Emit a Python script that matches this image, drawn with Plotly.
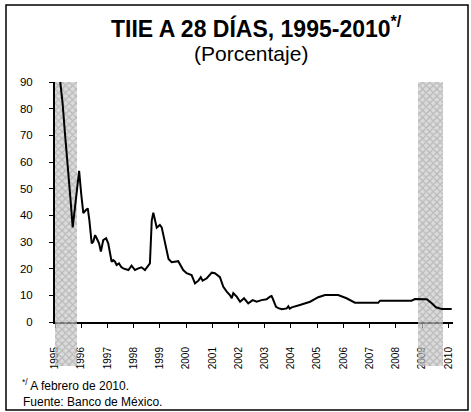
import plotly.graph_objects as go

# ---- data ----
years = [1995.19, 1995.29, 1995.39, 1995.51, 1995.60, 1995.675, 1995.75, 1995.84, 1995.92,
         1996.00, 1996.08, 1996.18, 1996.25, 1996.31, 1996.40, 1996.46, 1996.53, 1996.59,
         1996.68, 1996.75, 1996.84, 1996.95, 1997.03, 1997.16, 1997.22, 1997.29, 1997.35,
         1997.44, 1997.52, 1997.60, 1997.71, 1997.80, 1997.92, 1998.05, 1998.18, 1998.30,
         1998.43, 1998.56, 1998.62, 1998.69, 1998.75, 1998.88, 1999.00, 1999.07, 1999.20,
         1999.33, 1999.45, 1999.58, 1999.70, 1999.89, 2000.02, 2000.21, 2000.34, 2000.47,
         2000.56, 2000.63, 2000.79, 2000.98, 2001.10, 2001.29, 2001.42, 2001.55, 2001.67,
         2001.74, 2001.80, 2001.93, 2002.06, 2002.21, 2002.37, 2002.54, 2002.69, 2002.88,
         2003.07, 2003.20, 2003.26, 2003.30, 2003.43, 2003.52, 2003.65, 2003.84, 2003.90,
         2003.95, 2004.03, 2004.34, 2004.73, 2005.04, 2005.30, 2005.80, 2006.12, 2006.44,
         2007.33, 2007.40, 2008.60, 2008.73, 2009.18, 2009.37, 2009.53, 2009.75, 2010.13]
tiie = [91.0, 82.0, 69.5, 57.0, 45.0, 35.5, 42.0, 52.0, 56.7,
        48.0, 40.8, 42.0, 42.6, 38.2, 29.5, 30.1, 32.6, 31.4,
        29.5, 26.4, 30.7, 31.4, 29.5, 22.6, 23.2, 22.6, 21.4,
        22.0, 20.7, 20.1, 19.8, 19.5, 21.1, 19.5, 20.1, 20.5,
        19.5, 21.4, 22.0, 38.0, 41.0, 35.4, 36.4, 35.5, 29.5,
        23.6, 22.4, 22.6, 22.8, 19.5, 18.3, 17.6, 14.5, 15.5,
        16.8, 15.5, 16.4, 18.5, 18.3, 16.8, 13.2, 11.4, 10.1,
        8.9, 10.8, 9.5, 7.6, 8.9, 7.0, 8.2, 7.6, 8.2,
        8.5, 9.5, 9.75, 8.9, 5.7, 5.2, 4.8, 5.1, 5.9,
        5.0, 5.5, 6.4, 7.6, 9.3, 10.1, 10.1, 8.9, 7.25,
        7.25, 8.0, 8.0, 8.6, 8.5, 7.0, 5.5, 4.9, 4.9]

band_start = [1994.92, 2008.86]
band_end = [1995.82, 2009.81]

tick_years = list(range(1995, 2011))
tick_labels = [str(y) for y in tick_years]
y_ticks = list(range(0, 100, 10))

# ---- layout geometry (pixels) ----
W, H = 471, 412
L, R, T, B = 55, 18, 82, 46
plot_w = W - L - R
plot_h = H - T - B
zero_px = 322
d = (H - B - zero_px) / plot_h          # main y-domain bottom
ymax = 90
lo = -d * ymax / (1 - d)               # y2 bottom value aligned with main axes


def px2x(px):
    return (px - L) / plot_w


def py2y(py):
    return (H - B - py) / plot_h


fig = go.Figure()

# placeholder so the main x/y subplot (axes, ticks) exists
fig.add_trace(go.Scatter(x=[None], y=[None], xaxis="x", yaxis="y",
                         mode="lines", showlegend=False, hoverinfo="skip"))

centers = [(a + b) / 2 for a, b in zip(band_start, band_end)]
widths = [b - a for a, b in zip(band_start, band_end)]
fig.add_trace(go.Bar(
    x=centers, y=[ymax - lo] * len(centers), base=[lo] * len(centers), width=widths,
    xaxis="x", yaxis="y2", opacity=0.7,
    marker=dict(color="#cccccc", line=dict(width=0),
                pattern=dict(shape="x", fgcolor="#666666", size=5, solidity=0.4)),
    hoverinfo="skip", showlegend=False,
))

fig.add_trace(go.Scatter(
    x=years, y=tiie, mode="lines", xaxis="x", yaxis="y2",
    line=dict(color="black", width=2), showlegend=False,
))

fig.update_layout(
    width=W, height=H,
    margin=dict(l=L, r=R, t=T, b=B, pad=0, autoexpand=False),
    paper_bgcolor="white", plot_bgcolor="rgba(0,0,0,0)",
    font=dict(family="Liberation Sans, Arial, sans-serif", color="black"),
    bargap=0,
    xaxis=dict(domain=[0, 1], range=[1995, 2010.18], anchor="y", automargin=False,
               tickmode="array", tickvals=tick_years, ticktext=tick_labels,
               tickangle=-90, ticks="outside", ticklen=4, tickwidth=1, tickcolor="black",
               showline=True, linewidth=2, linecolor="black",
               showgrid=False, zeroline=False, tickfont=dict(size=10),
               ticklabelstandoff=15),
    yaxis=dict(domain=[d, 1], range=[0, ymax], anchor="x", automargin=False,
               tickmode="array", tickvals=y_ticks,
               ticks="outside", ticklen=4, tickwidth=1, tickcolor="black",
               showline=True, linewidth=2, linecolor="black",
               showgrid=False, zeroline=False, tickfont=dict(size=11.5),
               ticklabelstandoff=14),
    yaxis2=dict(domain=[0, 1], range=[lo, ymax], anchor="x", visible=False,
                automargin=False),
)

fig.add_shape(type="rect", xref="paper", yref="paper",
              x0=px2x(6), x1=px2x(468), y0=py2y(410), y1=py2y(5),
              line=dict(color="black", width=1.5), fillcolor="rgba(0,0,0,0)")

fig.add_annotation(xref="paper", yref="paper", x=px2x(256), y=py2y(27),
                   xanchor="center", yanchor="middle", showarrow=False,
                   text="<b>TIIE A 28 DÍAS, 1995-2010<sup>*/</sup></b>",
                   font=dict(size=23))
fig.add_annotation(xref="paper", yref="paper", x=px2x(251), y=py2y(53),
                   xanchor="center", yanchor="middle", showarrow=False,
                   text="(Porcentaje)", font=dict(size=21))
fig.add_annotation(xref="paper", yref="paper", x=px2x(20), y=py2y(385),
                   xanchor="left", yanchor="middle", showarrow=False,
                   text="<sup>*/</sup> A febrero de 2010.", font=dict(size=12))
fig.add_annotation(xref="paper", yref="paper", x=px2x(21), y=py2y(402),
                   xanchor="left", yanchor="middle", showarrow=False,
                   text="Fuente: Banco de México.", font=dict(size=12))

fig.write_html("out.html",
               config={"displayModeBar": False},
               post_script="document.body.style.margin='0';document.body.style.overflow='hidden';")
